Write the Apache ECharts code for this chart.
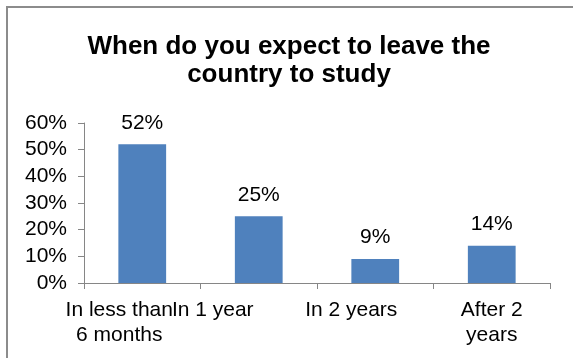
<!DOCTYPE html>
<html>
<head>
<meta charset="utf-8">
<script src="https://cdn.jsdelivr.net/npm/echarts@6/dist/echarts.min.js"></script>
<style>
  html, body { margin: 0; padding: 0; background: #ffffff; }
  #chart { width: 573px; height: 358px; }
</style>
</head>
<body>
<div id="chart"></div>
<script>
// Survey answers: when respondents expect to leave the country to study
const categories = ['In less than\n6 months', 'In 1 year', 'In 2 years', 'After 2\nyears'];
const shares = [52, 25, 9, 14];
const yTicks = { min: 0, max: 60, step: 10 };

// Horizontal nudge (px) of each category label, leftwards
const labelNudge = [23, 46, 24, 0];

const font = 'Liberation Sans, Arial, sans-serif';
const chart = echarts.init(document.getElementById('chart'), null, { renderer: 'canvas' });

chart.setOption({
  backgroundColor: '#ffffff',
  animation: false,
  title: {
    text: 'When do you expect to leave the\ncountry to study',
    left: 289,
    textAlign: 'center',
    top: 33,
    padding: 0,
    textStyle: {
      fontFamily: font,
      fontWeight: 'bold',
      fontSize: 26,
      lineHeight: 28,
      color: '#000000'
    }
  },
  graphic: [{
    type: 'rect',
    silent: true,
    shape: { x: 7, y: 7, width: 700, height: 500 },
    style: { fill: 'none', stroke: '#8c8c8c', lineWidth: 2 }
  }],
  grid: { left: 84, right: 23, top: 123, bottom: 75 },
  xAxis: {
    type: 'category',
    data: categories.map((c, i) => ({
      value: c,
      textStyle: { padding: [0, labelNudge[i] * 2, 0, 0] }
    })),
    axisLine: { lineStyle: { color: '#868686', width: 1 } },
    axisTick: { show: true, length: 6, lineStyle: { color: '#868686' } },
    axisLabel: {
      interval: 0,
      margin: 15,
      fontFamily: font,
      fontSize: 21,
      lineHeight: 25,
      color: '#000000',
      align: 'center'
    }
  },
  yAxis: {
    type: 'value',
    min: yTicks.min,
    max: yTicks.max,
    interval: yTicks.step,
    splitLine: { show: false },
    axisLine: { show: true, lineStyle: { color: '#868686', width: 1 } },
    axisTick: { show: true, length: 6, lineStyle: { color: '#868686' } },
    axisLabel: {
      margin: 17,
      fontFamily: font,
      fontSize: 21,
      color: '#000000',
      formatter: '{value}%'
    }
  },
  series: [{
    type: 'bar',
    data: shares,
    barWidth: '41%',
    itemStyle: { color: '#4F81BD' },
    label: {
      show: true,
      position: 'top',
      distance: 11,
      fontFamily: font,
      fontSize: 21,
      color: '#000000',
      formatter: '{c}%'
    }
  }]
});
</script>
</body>
</html>
